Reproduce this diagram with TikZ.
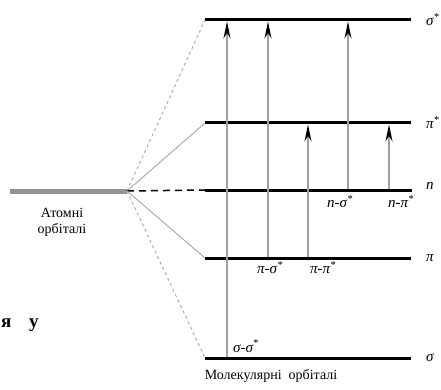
\documentclass[tikz,border=0pt]{standalone}
\usepackage{fontspec}
\setmainfont{Liberation Serif}
\usetikzlibrary{arrows.meta}

\begin{document}
\begin{tikzpicture}[x=1pt, y=-1pt,
  level/.style={line width=3pt},
  corr/.style={draw=gray!65, line width=1pt},
  trans/.style={draw=gray!75, line width=1.2pt, shorten <=1.5pt, shorten >=1.5pt,
    -{Stealth[length=17pt,width=7pt,black]}},
  lab/.style={font=\itshape\fontsize{15}{15}\selectfont, inner sep=0pt},
  caption/.style={font=\fontsize{14}{15}\selectfont, inner sep=0pt},
  frag/.style={font=\bfseries\fontsize{19}{19}\selectfont, inner sep=0pt}]
\useasboundingbox (0,0) rectangle (441,390);
\clip (0,0) rectangle (441,390);

% molecular levels
\foreach \n/\y/\lab in {sgs/20/{σ\textsuperscript{*}}, pis/123/{π\textsuperscript{*}},
                        nb/186/{n}, pi/258/{π}, sg/358/{σ}}{
  \coordinate (\n-l) at (205,\y);
  \coordinate (\n-r) at (411,\y);
  \node[lab, anchor=west] (\n-name) at ([xshift=15pt]\n-r) {\lab};
}
\coordinate (nb-l) at (205,190);
\coordinate (nb-r) at (412,190);
\foreach \n in {sgs, pis, nb, pi, sg}
  \draw[level] (\n-l) -- (\n-r);

% atomic level and correlation lines
\coordinate (ao-l) at (10,191);
\coordinate (ao) at (127,191);
\draw[gray!85, line width=5pt] (ao-l) -- (ao);
\node[caption, align=center] (ao-name) at (62,222) {Атомні\\[1pt]орбіталі};
\draw[corr, dashed] (ao) -- (sgs-l);
\draw[corr] (ao) -- (pis-l);
\draw[line width=1.5pt, dash pattern=on 7pt off 5pt] (ao) -- (nb-l);
\draw[corr] (ao) -- (pi-l);
\draw[corr, dashed] (ao) -- (sg-l);

% transitions
\foreach \x/\a/\b in {227/sg/sgs, 268/pi/sgs, 308/pi/pis, 348/nb/sgs, 389/nb/pis}{
  \draw[trans] (\x,0 |- \a-l) -- (\x,0 |- \b-l);
}
\node[lab, anchor=base west] (t-ss) at (233,352) {σ-σ\textsuperscript{*}};
\node[lab] (t-ps) at (270,268) {π-σ\textsuperscript{*}};
\node[lab] (t-pp) at (323,268) {π-π\textsuperscript{*}};
\node[lab] (t-ns) at (340,202) {n-σ\textsuperscript{*}};
\node[lab] (t-np) at (401,202) {n-π\textsuperscript{*}};

\node[caption] (mo-name) at (271,376) {Молекулярні\ \ орбіталі};

% text of the page
\node[frag, anchor=base west] (frag-a) at (1,327) {я};
\node[frag, anchor=base west] (frag-b) at (29,327) {у};
\end{tikzpicture}
\end{document}
